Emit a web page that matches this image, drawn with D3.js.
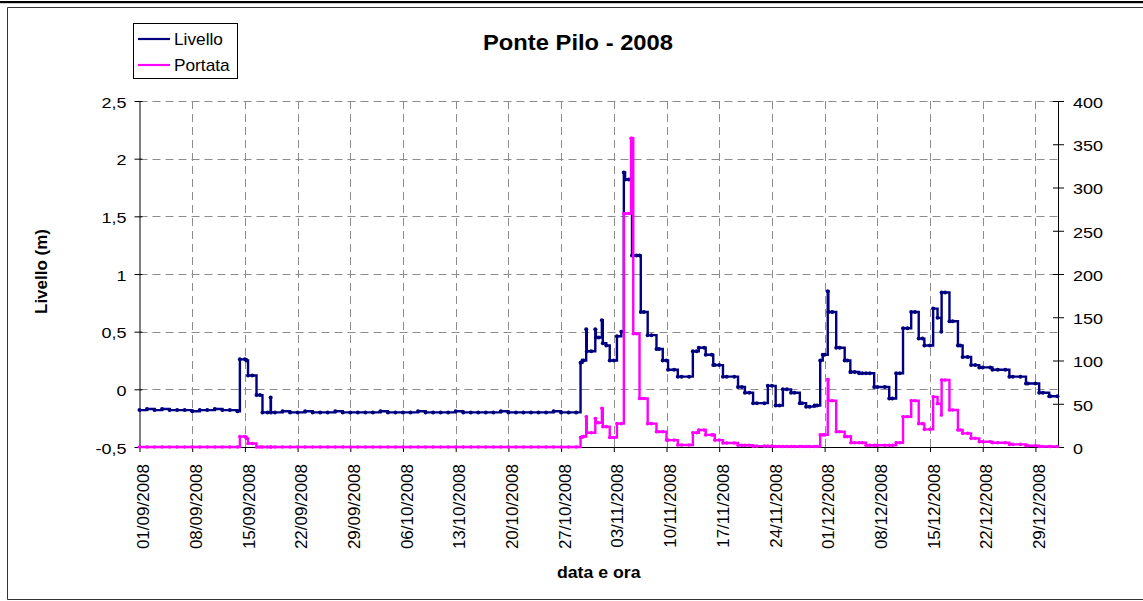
<!DOCTYPE html>
<html>
<head>
<meta charset="utf-8">
<script src="https://cdn.jsdelivr.net/npm/d3@7"></script>
<style>
  body { margin: 0; background: #fff; }
  svg { display: block; }
  text { font-family: "Liberation Sans", Arial, sans-serif; fill: #000; }
</style>
</head>
<body>
<svg id="chart" width="1143" height="601"></svg>
<script>
// Sample instants (MM-DD HH, year 2008), shared by both series
const times = [
  // September
  "09-01 00","09-02 00","09-03 00","09-04 00","09-05 00","09-06 00","09-07 00","09-08 00","09-09 00","09-10 00","09-11 00","09-12 00","09-13 00","09-14 00",
  "09-14 08","09-15 00","09-15 05","09-15 10","09-16 00","09-16 13","09-17 00","09-17 08","09-18 00","09-18 10","09-18 11",
  "09-19 00","09-20 00","09-21 00","09-22 00","09-23 00","09-24 00","09-25 00","09-26 00","09-27 00","09-28 00","09-29 00","09-30 00",
  // October
  "10-01 00","10-02 00","10-03 00","10-04 00","10-05 00","10-06 00","10-07 00","10-08 00","10-09 00","10-10 00",
  "10-11 00","10-12 00","10-13 00","10-14 00","10-15 00","10-16 00","10-17 00","10-18 00","10-19 00","10-20 00",
  "10-21 00","10-22 00","10-23 00","10-24 00","10-25 00","10-26 00","10-27 00","10-28 00","10-29 00",
  "10-29 14","10-29 20","10-30 00","10-30 08","10-30 10","10-31 00","10-31 13","10-31 15",
  // November
  "11-01 00","11-01 10","11-01 13","11-02 00","11-02 11","11-03 00","11-03 10","11-04 00","11-04 08","11-04 12",
  "11-05 00","11-05 07","11-05 10","11-05 14","11-06 00","11-06 10","11-06 14","11-07 00","11-07 12","11-08 00",
  "11-08 16","11-09 00","11-09 12","11-10 00","11-10 05","11-11 00","11-11 12","11-12 00","11-13 00","11-13 12",
  "11-14 00","11-14 07","11-15 00","11-15 05","11-16 00","11-16 05","11-16 10","11-17 00","11-17 12","11-18 00",
  "11-19 00","11-19 12","11-20 00","11-20 10","11-21 00","11-21 12","11-22 00","11-23 00","11-23 11","11-24 00",
  "11-24 12","11-25 00","11-25 11","11-26 00","11-26 13","11-27 00","11-27 17","11-28 00","11-28 13","11-29 00",
  "11-29 16","11-30 00","11-30 10","11-30 18",
  // December
  "12-01 00","12-01 10","12-01 12","12-02 00","12-02 13","12-03 00","12-03 16","12-04 00","12-04 10","12-04 12",
  "12-05 00","12-05 14","12-06 00","12-06 12","12-07 00","12-07 14","12-08 00","12-09 00","12-09 14","12-10 00",
  "12-10 12","12-11 00","12-11 10","12-12 00","12-12 12","12-13 00","12-13 12","12-14 00","12-14 06","12-15 00",
  "12-15 10","12-16 00","12-16 12","12-16 13","12-17 00","12-17 14","12-18 00","12-18 17","12-19 00","12-19 08",
  "12-20 00","12-20 11","12-21 00","12-21 13","12-22 00","12-23 00","12-23 07","12-24 00","12-25 00","12-25 13",
  "12-26 00","12-27 00","12-27 18","12-28 00","12-29 00","12-29 12","12-30 00","12-30 20","12-31 00","12-31 22"
];

// Livello (m)
const livello = [
  -0.18,-0.17,-0.18,-0.17,-0.18,-0.18,-0.18,-0.19,-0.18,-0.18,-0.17,-0.18,-0.18,-0.19,
  0.26,0.26,0.25,0.12,0.12,-0.05,-0.05,-0.20,-0.20,-0.07,-0.20,
  -0.20,-0.19,-0.20,-0.20,-0.19,-0.20,-0.20,-0.20,-0.19,-0.20,-0.20,-0.20,
  -0.20,-0.20,-0.19,-0.20,-0.20,-0.20,-0.20,-0.19,-0.20,-0.20,
  -0.20,-0.20,-0.19,-0.20,-0.20,-0.20,-0.20,-0.20,-0.19,-0.20,
  -0.20,-0.20,-0.20,-0.20,-0.20,-0.19,-0.20,-0.20,-0.20,
  0.23,0.25,0.25,0.52,0.33,0.33,0.52,0.45,
  0.45,0.60,0.40,0.38,0.25,0.25,0.46,0.50,1.88,1.82,
  1.82,1.82,1.16,1.16,1.16,1.16,0.67,0.67,0.47,0.47,
  0.35,0.35,0.25,0.25,0.17,0.17,0.11,0.11,0.11,0.33,
  0.33,0.36,0.36,0.30,0.30,0.21,0.21,0.21,0.11,0.11,
  0.11,0.02,0.02,-0.03,-0.03,-0.12,-0.12,-0.12,0.03,0.03,
  -0.14,-0.14,0.00,0.00,-0.03,-0.03,-0.12,-0.12,-0.15,-0.15,
  -0.14,-0.14,0.25,0.30,
  0.30,0.85,0.67,0.67,0.36,0.36,0.25,0.25,0.15,0.15,
  0.15,0.14,0.14,0.14,0.14,0.02,0.02,0.02,-0.08,-0.08,
  0.14,0.14,0.53,0.53,0.67,0.67,0.44,0.44,0.38,0.38,
  0.70,0.62,0.50,0.84,0.84,0.59,0.59,0.38,0.38,0.28,
  0.28,0.21,0.21,0.19,0.19,0.19,0.17,0.17,0.17,0.11,
  0.11,0.11,0.05,0.05,0.05,-0.03,-0.03,-0.06,-0.06,-0.06
];

// Portata (right axis)
const portata = [
  0,0,0,0,0,0,0,0,0,0,0,0,0,0,
  12,12,10,4,4,0,0,0,0,0,0,
  0,0,0,0,0,0,0,0,0,0,0,0,
  0,0,0,0,0,0,0,0,0,0,
  0,0,0,0,0,0,0,0,0,0,
  0,0,0,0,0,0,0,0,0,
  11,12,12,35,16.5,16.5,33,28,
  28,44.7,23.5,23.5,11,11,27,27,270,270,
  270,357,357,131,131,56,56,56,27,27,
  17.7,17.7,17.7,8,8,8,2.3,2.3,2.3,16.5,
  16.5,19.7,19.7,14,14,14,8,8,4.6,4.6,
  4.6,2,2,2,2,1,1,1,1,1,
  0.5,0.5,0.5,0.5,0.5,0.5,0.5,0.5,0.5,0.5,
  0.5,0.5,14,14,
  14,78,53.5,53.5,17.7,17.7,12,12,12,5,
  5,5,5,2,2,2,2,2,2,2,
  5,5,35,35,53.5,53.5,27,27,20.4,20.4,
  58,50,37,77.5,77.5,42.8,42.8,19.7,19.7,15.8,
  15.8,10,10,6,6,6,5,5,5,3,
  3,3,1.5,1.5,1.5,0.5,0.5,0.5,0.5,0.5
];

const xTickLabels = [
  "01/09/2008","08/09/2008","15/09/2008","22/09/2008","29/09/2008",
  "06/10/2008","13/10/2008","20/10/2008","27/10/2008",
  "03/11/2008","10/11/2008","17/11/2008","24/11/2008",
  "01/12/2008","08/12/2008","15/12/2008","22/12/2008","29/12/2008"
];
const livelloTicks = [-0.5, 0, 0.5, 1, 1.5, 2, 2.5];
const portataTicks = [0, 50, 100, 150, 200, 250, 300, 350, 400];
const xDomain = ["01/09/2008", "01/01/2009"];

const title = "Ponte Pilo - 2008";
const seriesNames = ["Livello", "Portata"];
const colors = ["#000080", "#FF00FF"];

const parseT = d3.timeParse("%Y-%m-%d %H");
const parseD = d3.timeParse("%d/%m/%Y");
const fmtD = d3.timeFormat("%d/%m/%Y");
const it = d3.formatLocale({decimal: ",", thousands: ".", grouping: [3], currency: ["", " €"], minus: "-"});
const fmtNum = it.format("~g");

const dates = times.map(t => parseT("2008-" + t));
const livData = dates.map((d, i) => ({d, v: livello[i]}));
const porData = dates.map((d, i) => ({d, v: portata[i]}));

const svg = d3.select("#chart");
const L = 139.5, R = 1058, T = 101, B = 447;

const x = d3.scaleTime().domain(xDomain.map(parseD)).range([L, R]);
const yL = d3.scaleLinear().domain([-0.5, 2.5]).range([B, T]);
const yR = d3.scaleLinear().domain([0, 400]).range([B, T]);
const xTicks = xTickLabels.map(parseD);

// stretch text horizontally around its anchor
function widen(sel, k) {
  sel.each(function () {
    const t = d3.select(this);
    const ax = +t.attr("x") || 0;
    t.attr("transform", `translate(${ax},0) scale(${k},1) translate(${-ax},0)`);
  });
}

// outer frame
svg.append("rect").attr("x", 0).attr("y", 1).attr("width", 1143).attr("height", 2.2).attr("fill", "#000");
svg.append("path").attr("d", "M1143,7.5H7.5V599.5H1143").attr("fill", "none").attr("stroke", "#333").attr("stroke-width", 1);

// grid
const grid = svg.append("g").attr("stroke", "#8c8c8c").attr("stroke-width", 1).attr("stroke-dasharray", "8,5").attr("fill", "none");
grid.selectAll("line.h").data(livelloTicks.filter(v => v > -0.5)).join("line")
  .attr("x1", L).attr("x2", R).attr("y1", d => Math.round(yL(d)) + 0.5).attr("y2", d => Math.round(yL(d)) + 0.5);
grid.selectAll("line.v").data(xTicks.slice(1)).join("line")
  .attr("y1", T).attr("y2", B).attr("x1", d => Math.round(x(d)) + 0.5).attr("x2", d => Math.round(x(d)) + 0.5);

// axes
const axL = svg.append("g").attr("transform", `translate(${L},0)`)
  .call(d3.axisLeft(yL).tickValues(livelloTicks).tickFormat(fmtNum).tickSize(5).tickSizeOuter(0).tickPadding(8));
axL.selectAll(".tick line").attr("x1", 3);
axL.selectAll(".tick text").attr("dy", "0.42em").style("font-size", "15px").call(widen, 1.2);

const axR = svg.append("g").attr("transform", `translate(${R},0)`)
  .call(d3.axisRight(yR).tickValues(portataTicks).tickFormat(fmtNum).tickSize(6).tickSizeOuter(0).tickPadding(9));
axR.selectAll(".tick line").attr("x1", -5);
axR.selectAll(".tick text").attr("dy", "0.42em").style("font-size", "15px").call(widen, 1.2);

const axB = svg.append("g").attr("transform", `translate(0,${B})`)
  .call(d3.axisBottom(x).tickValues(xTicks).tickFormat(fmtD).tickSize(5).tickSizeOuter(0));
axB.selectAll(".tick text")
  .attr("transform", "rotate(-90)").attr("text-anchor", "end")
  .attr("x", -17).attr("y", 3).attr("dy", "0.36em").style("font-size", "17px");

svg.selectAll(".domain").attr("stroke", "#000");
svg.selectAll(".tick line").attr("stroke", "#000");
svg.selectAll(".tick text").attr("fill", "#000").style("font-family", "'Liberation Sans', Arial, sans-serif");

// series
const lineL = d3.line().x(d => x(d.d)).y(d => yL(d.v)).curve(d3.curveStepAfter);
const lineR = d3.line().x(d => x(d.d)).y(d => yR(d.v)).curve(d3.curveStepAfter);

svg.append("path").datum(livData).attr("d", lineL)
  .attr("fill", "none").attr("stroke", colors[0]).attr("stroke-width", 2.4).attr("stroke-linejoin", "miter");
svg.append("g").selectAll("circle").data(livData).join("circle")
  .attr("cx", d => x(d.d)).attr("cy", d => yL(d.v)).attr("r", 2).attr("fill", colors[0]);

svg.append("path").datum(porData).attr("d", lineR)
  .attr("fill", "none").attr("stroke", colors[1]).attr("stroke-width", 2.4).attr("stroke-linejoin", "miter");
svg.append("g").selectAll("circle").data(porData).join("circle")
  .attr("cx", d => x(d.d)).attr("cy", d => yR(d.v)).attr("r", 1.8).attr("fill", colors[1]);

// title
svg.append("text").attr("x", 578).attr("y", 50).attr("text-anchor", "middle")
  .style("font-size", "22px").style("font-weight", "bold").text(title).call(widen, 1.08);

// axis titles
svg.append("text").attr("transform", "translate(47,271.5) rotate(-90)").attr("text-anchor", "middle")
  .style("font-size", "17px").style("font-weight", "bold").text("Livello (m)");
svg.append("text").attr("x", (L + R) / 2).attr("y", 578).attr("text-anchor", "middle")
  .style("font-size", "17px").style("font-weight", "bold").text("data e ora").call(widen, 1.04);

// legend
const lg = svg.append("g");
lg.append("rect").attr("x", 133.5).attr("y", 23.5).attr("width", 104).attr("height", 55)
  .attr("fill", "#fff").attr("stroke", "#000").attr("stroke-width", 1);
seriesNames.forEach((name, i) => {
  const cy = 39 + i * 26;
  lg.append("line").attr("x1", 138).attr("x2", 170).attr("y1", cy).attr("y2", cy)
    .attr("stroke", colors[i]).attr("stroke-width", 2.2);
  lg.append("text").attr("x", 174).attr("y", cy + 6).style("font-size", "16px").text(name).call(widen, 1.08);
});
</script>
</body>
</html>
